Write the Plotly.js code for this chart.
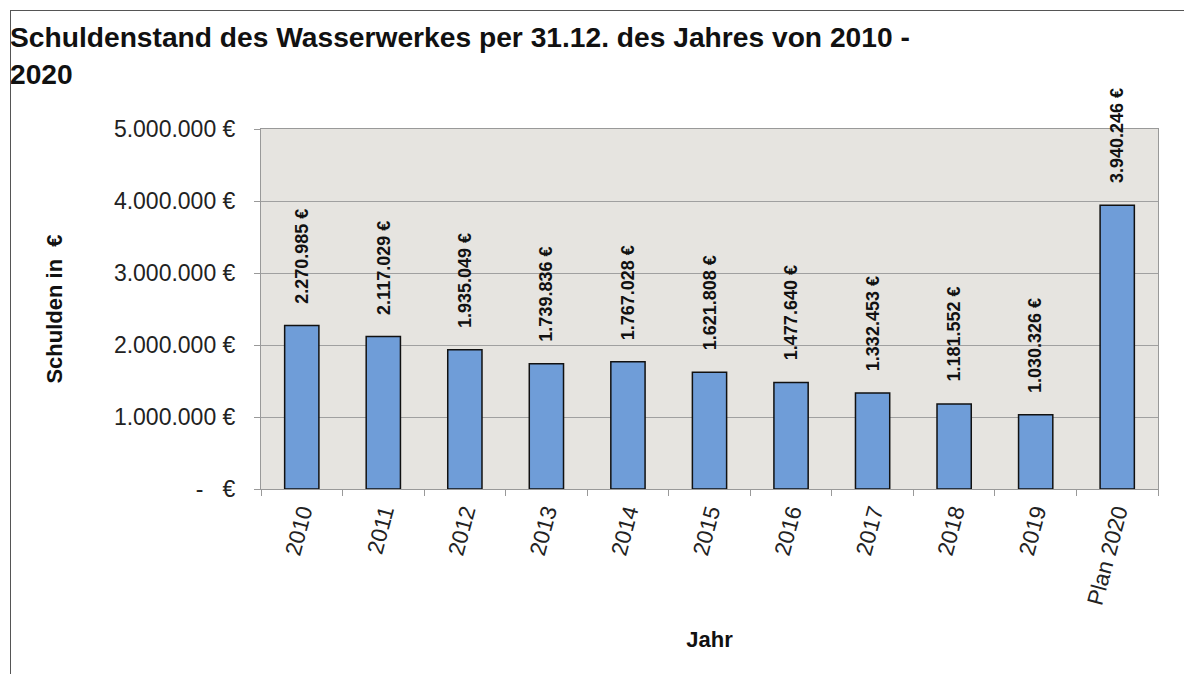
<!DOCTYPE html>
<html>
<head>
<meta charset="utf-8">
<script src="https://cdn.plot.ly/plotly-3.0.1.min.js"></script>
<style>
  html, body { margin: 0; padding: 0; background: #ffffff; }
  #chart { position: absolute; left: 0; top: 0; width: 1184px; height: 674px; }
  #frame { position: absolute; left: 10px; top: 10px; width: 1200px; height: 700px;
           border-left: 1.5px solid #555; border-top: 1.5px solid #555; pointer-events: none; }
</style>
</head>
<body>
<div id="chart"></div>
<div id="frame"></div>
<script>
const categories = ["2010", "2011", "2012", "2013", "2014", "2015", "2016", "2017", "2018", "2019", "Plan 2020"];
const debts = [2270985, 2117029, 1935049, 1739836, 1767028, 1621808, 1477640, 1332453, 1181552, 1030326, 3940246];
const yTickValues = [0, 1000000, 2000000, 3000000, 4000000, 5000000];
const yTickLabels = ["-   €", "1.000.000 €", "2.000.000 €", "3.000.000 €", "4.000.000 €", "5.000.000 €"];

function deFormat(v) {
  return String(Math.round(v)).replace(/\B(?=(\d{3})+(?!\d))/g, ".") + " €";
}

const font = "Liberation Sans, Arial, sans-serif";

const trace = {
  type: "bar",
  x: categories,
  y: debts,
  marker: { color: "#6f9dd8", line: { color: "#111111", width: 1.5 } },
  hoverinfo: "x+y"
};

// annotations on a category axis: x given as category index
const annotations = categories.map((c, i) => ({
  x: i, y: debts[i], xref: "x", yref: "y",
  text: deFormat(debts[i]),
  showarrow: false, textangle: -90,
  yanchor: "bottom", yshift: 20,
  font: { family: font, size: 18, color: "#111111", weight: "bold" }
}));

const layout = {
  width: 1184, height: 674,
  paper_bgcolor: "#ffffff",
  plot_bgcolor: "#e6e4e0",
  margin: { l: 261, r: 26, t: 129, b: 185 },
  showlegend: false,
  bargap: 0.58,
  title: {
    text: "<b>Schuldenstand des Wasserwerkes per 31.12. des Jahres von 2010 -<br>2020</b>",
    font: { family: font, size: 28.2, color: "#111111" },
    xref: "container", yref: "container",
    x: 10 / 1184, xanchor: "left",
    y: 1 - 47 / 674, yanchor: "top"
  },
  xaxis: {
    type: "category",
    range: [-0.5, categories.length - 0.5],
    autorange: false,
    tickangle: -75,
    tickfont: { family: font, size: 22.5, color: "#222222" },
    ticks: "outside", tickson: "boundaries", ticklen: 6, tickcolor: "#999999",
    showline: true, linecolor: "#999999", linewidth: 1, mirror: true,
    showgrid: false,
    title: { text: "<b>Jahr</b>", font: { family: font, size: 22, color: "#111111" }, standoff: 24 }
  },
  yaxis: {
    range: [0, 5000000],
    autorange: false,
    tickvals: yTickValues,
    ticktext: yTickLabels,
    tickfont: { family: font, size: 23, color: "#222222" },
    ticks: "outside", ticklen: 6, tickcolor: "#999999",
    ticklabelstandoff: 14,
    showline: true, linecolor: "#999999", linewidth: 1, mirror: true,
    showgrid: true, gridcolor: "#a0a0a0", gridwidth: 1,
    zeroline: false,
    title: { text: "<b>Schulden in  €</b>", font: { family: font, size: 22, color: "#111111" }, standoff: 45 }
  },
  annotations: annotations
};

Plotly.newPlot("chart", [trace], layout, { displayModeBar: false, staticPlot: true });
</script>
</body>
</html>
